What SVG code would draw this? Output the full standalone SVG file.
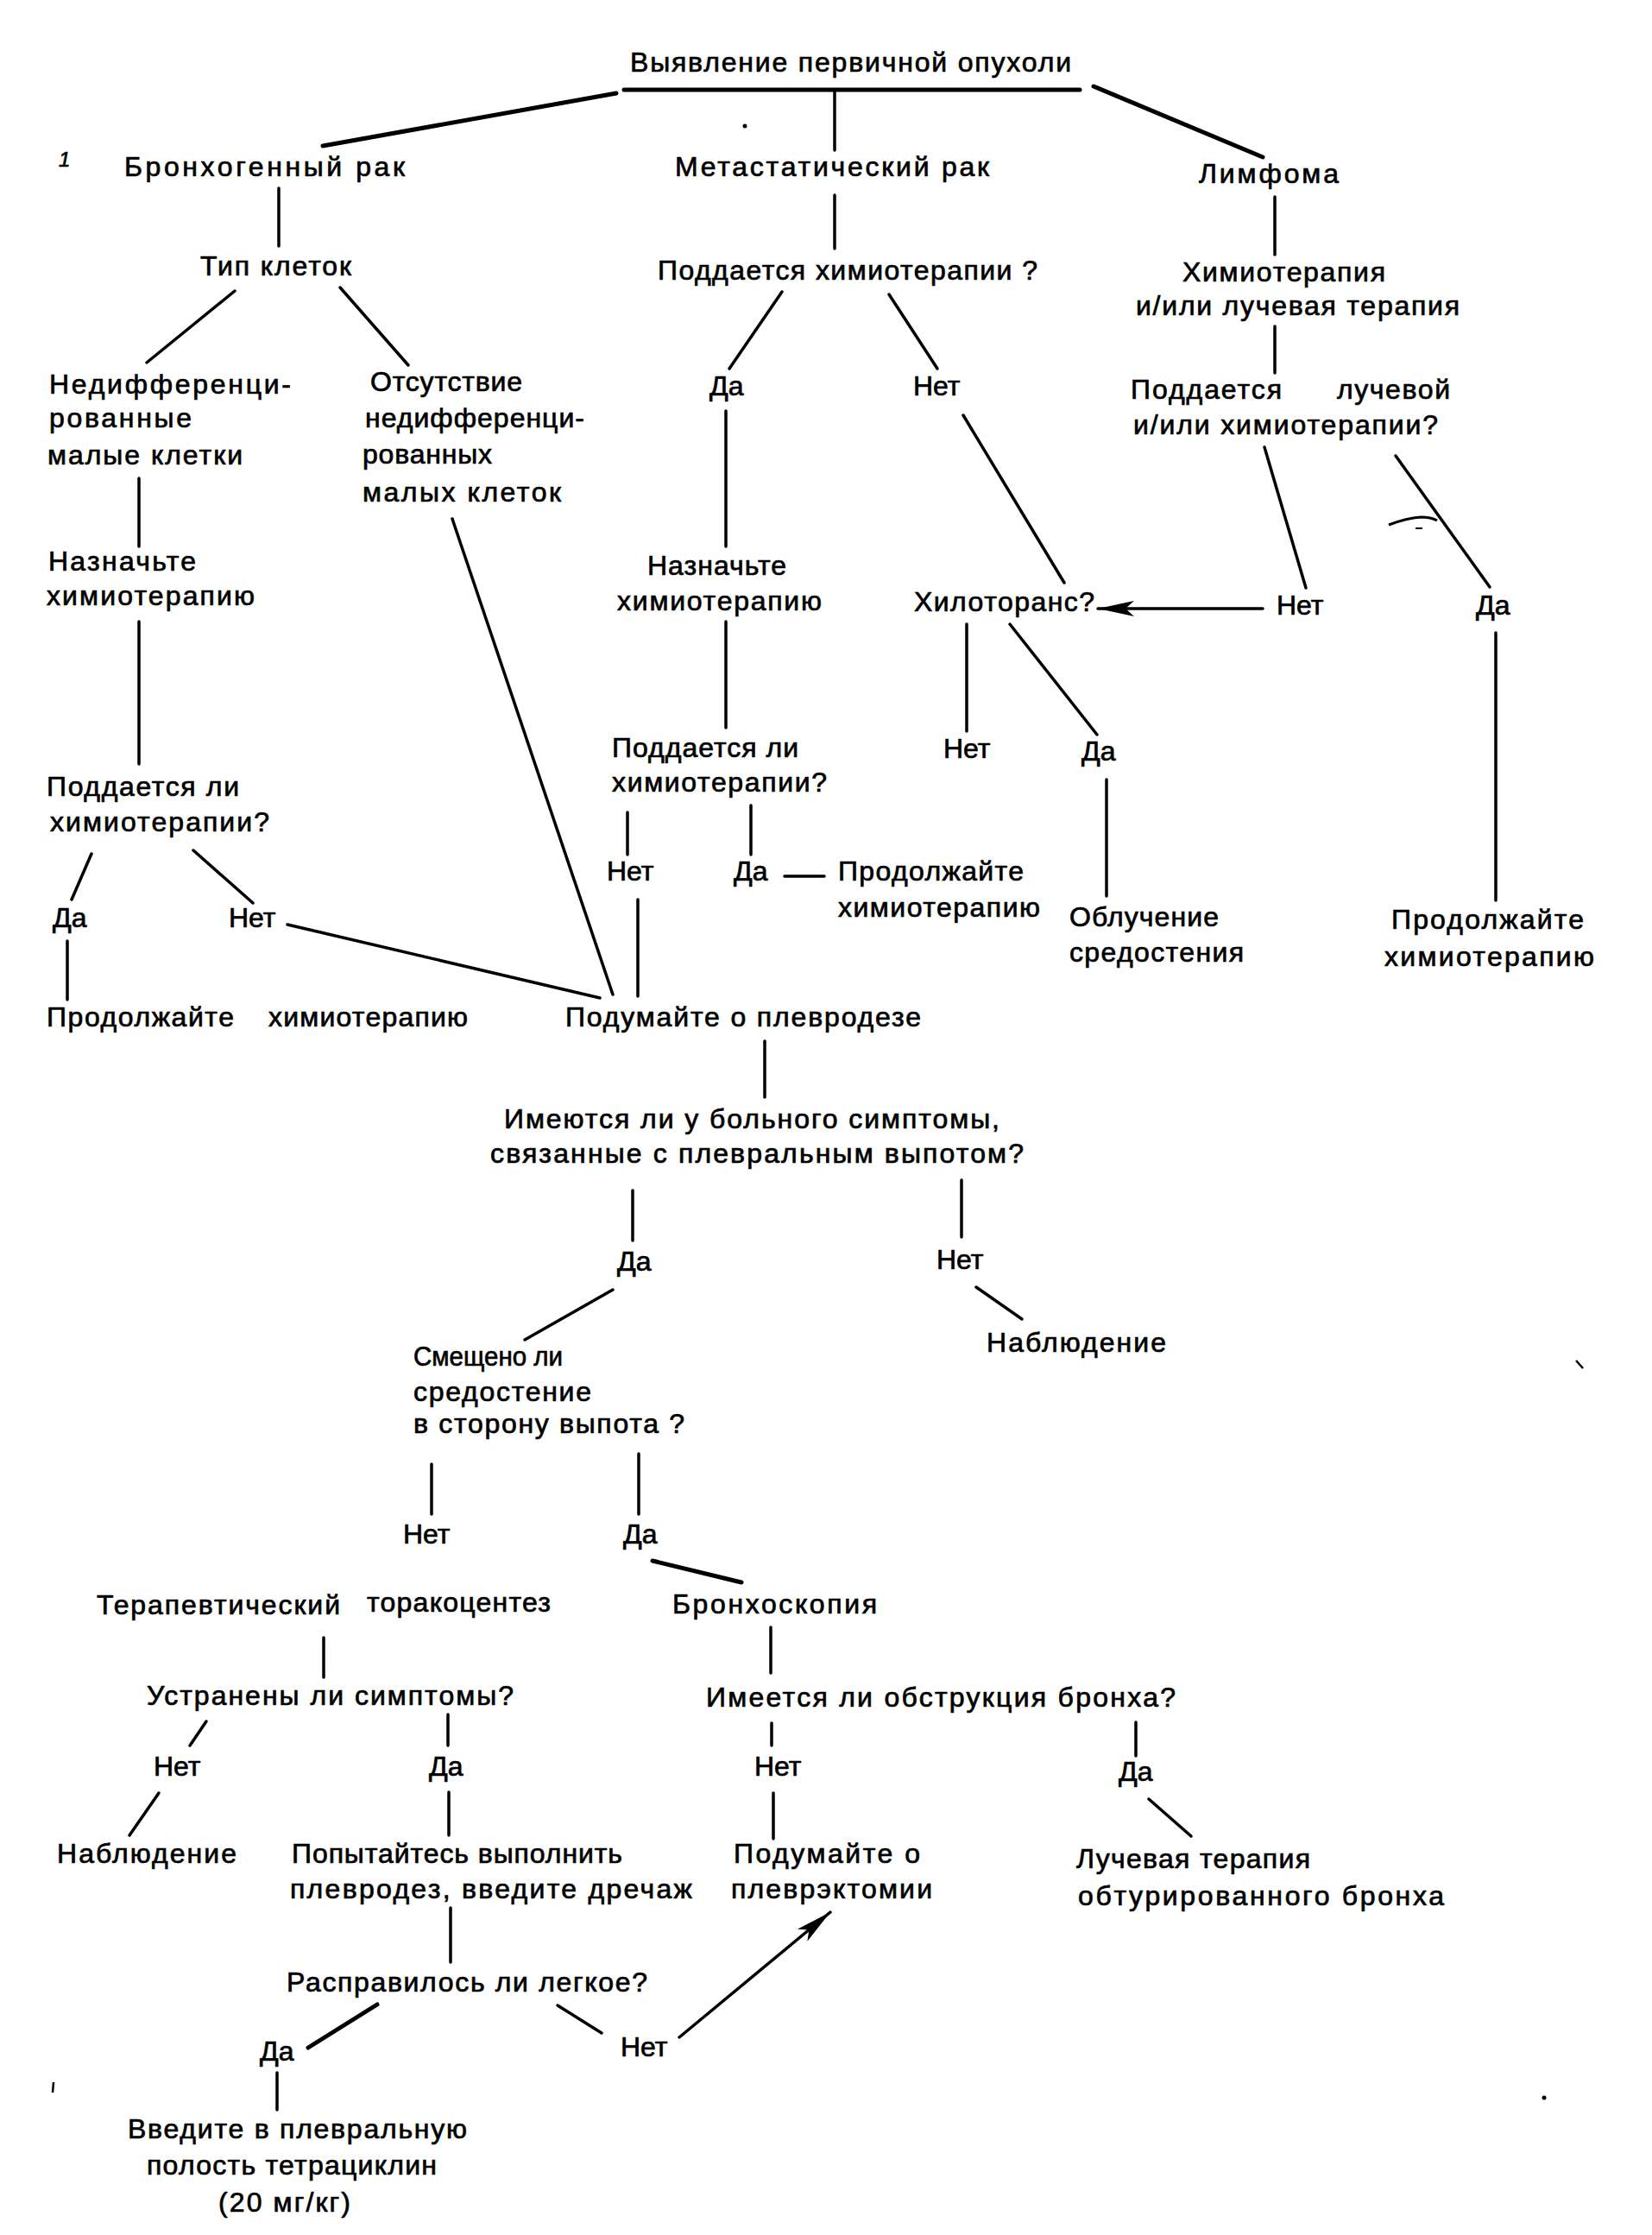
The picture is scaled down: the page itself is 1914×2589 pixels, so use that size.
<svg xmlns="http://www.w3.org/2000/svg" width="1914" height="2589" viewBox="0 0 1914 2589">
<defs>
<style>
text{font-family:"Liberation Sans",Arial,sans-serif;font-size:32px;fill:#000;stroke:#000;stroke-width:0.7}
.c line{stroke:#000;stroke-width:3.5;stroke-linecap:round;fill:none}
.c .thick{stroke-width:5}
.mk{fill:#000;stroke:none}
</style>
<marker id="ah" markerUnits="userSpaceOnUse" markerWidth="48" markerHeight="24" refX="42" refY="11" orient="auto">
<path d="M0,2 L42,11 L0,20 L10,11 Z" fill="#000"/>
</marker>
</defs>
<rect width="1914" height="2589" fill="#fff"/>

<g class="c" id="connectors">
<line class="thick" x1="723" y1="104" x2="1251" y2="104"/>
<line class="thick" x1="714" y1="108" x2="374" y2="169"/>
<line x1="967" y1="104" x2="967" y2="174"/>
<line class="thick" x1="1267" y1="100" x2="1463" y2="182"/>
<line x1="323" y1="218" x2="323" y2="285"/>
<line x1="272" y1="337" x2="170" y2="420"/>
<line x1="394" y1="333" x2="473" y2="423"/>
<line x1="161" y1="554" x2="161" y2="633"/>
<line x1="161" y1="720" x2="161" y2="885"/>
<line x1="106" y1="989" x2="83" y2="1042"/>
<line x1="224" y1="985" x2="293" y2="1046"/>
<line x1="78" y1="1090" x2="78" y2="1158"/>
<line x1="333" y1="1071" x2="695" y2="1156"/>
<line x1="524" y1="601" x2="710" y2="1152"/>
<line x1="967" y1="226" x2="967" y2="288"/>
<line x1="906" y1="338" x2="845" y2="427"/>
<line x1="1030" y1="341" x2="1086" y2="427"/>
<line x1="841" y1="476" x2="841" y2="633"/>
<line x1="841" y1="720" x2="841" y2="843"/>
<line x1="727" y1="941" x2="727" y2="990"/>
<line x1="870" y1="933" x2="870" y2="990"/>
<line x1="909" y1="1015" x2="955" y2="1015"/>
<line x1="739" y1="1042" x2="739" y2="1154"/>
<line x1="1116" y1="481" x2="1233" y2="675"/>
<line x1="1463" y1="705" x2="1272" y2="705" stroke-width="4.5" marker-end="url(#ah)"/>
<line x1="1120" y1="723" x2="1120" y2="847"/>
<line x1="1170" y1="723" x2="1271" y2="851"/>
<line x1="1282" y1="903" x2="1282" y2="1038"/>
<line x1="1477" y1="228" x2="1477" y2="295"/>
<line x1="1477" y1="378" x2="1477" y2="432"/>
<line x1="1465" y1="518" x2="1513" y2="681"/>
<line x1="1617" y1="528" x2="1726" y2="680"/>
<line x1="1733" y1="733" x2="1733" y2="1043"/>
<line x1="886" y1="1206" x2="886" y2="1271"/>
<line x1="733" y1="1379" x2="733" y2="1437"/>
<line x1="1114" y1="1367" x2="1114" y2="1433"/>
<line x1="1131" y1="1491" x2="1184" y2="1528"/>
<line x1="710" y1="1494" x2="608" y2="1552"/>
<line x1="500" y1="1696" x2="500" y2="1754"/>
<line x1="740" y1="1684" x2="740" y2="1754"/>
<line class="thick" x1="756" y1="1808" x2="859" y2="1833"/>
<line x1="375" y1="1897" x2="375" y2="1943"/>
<line x1="893" y1="1885" x2="893" y2="1938"/>
<line x1="239" y1="1994" x2="220" y2="2022"/>
<line x1="519" y1="1986" x2="519" y2="2022"/>
<line x1="894" y1="1996" x2="894" y2="2022"/>
<line x1="1316" y1="1995" x2="1316" y2="2034"/>
<line x1="184" y1="2077" x2="150" y2="2126"/>
<line x1="520" y1="2076" x2="520" y2="2126"/>
<line x1="896" y1="2077" x2="896" y2="2130"/>
<line x1="1331" y1="2084" x2="1380" y2="2127"/>
<line x1="522" y1="2210" x2="522" y2="2273"/>
<line class="thick" x1="437" y1="2322" x2="357" y2="2372"/>
<line x1="646" y1="2323" x2="697" y2="2355"/>
<line x1="787" y1="2360" x2="962" y2="2215" stroke-width="4" marker-end="url(#ah)"/>
<line x1="321" y1="2401" x2="321" y2="2444"/>
</g>

<g id="n_title"><text x="730" y="83" textLength="511">Выявление первичной опухоли</text></g>
<g id="n_broncho"><text x="144" y="204" textLength="325">Бронхогенный рак</text></g>
<g id="n_meta"><text x="782" y="204" textLength="364">Метастатический рак</text></g>
<g id="n_lymph"><text x="1389" y="212" textLength="162">Лимфома</text></g>

<g id="n_celltype"><text x="232" y="319" textLength="175">Тип клеток</text></g>
<g id="n_undiff">
<text x="57" y="456" textLength="280">Недифференци-</text>
<text x="57" y="495" textLength="165">рованные</text>
<text x="55" y="538" textLength="226">малые клетки</text>
</g>
<g id="n_nodiff">
<text x="429" y="453" textLength="176">Отсутствие</text>
<text x="423" y="495" textLength="254">недифференци-</text>
<text x="420" y="537" textLength="150">рованных</text>
<text x="420" y="581" textLength="230">малых   клеток</text>
</g>
<g id="n_assign1">
<text x="56" y="661" textLength="171">Назначьте</text>
<text x="54" y="701" textLength="241">химиотерапию</text>
</g>
<g id="n_resp1">
<text x="54" y="922" textLength="223">Поддается ли</text>
<text x="58" y="963" textLength="254">химиотерапии?</text>
</g>
<g id="n_yes1"><text x="61" y="1074">Да</text></g>
<g id="n_no1"><text x="265" y="1074">Нет</text></g>
<g id="n_cont1">
<text x="54" y="1189" textLength="217">Продолжайте</text>
<text x="311" y="1189" textLength="231">химиотерапию</text>
</g>

<g id="n_metaresp"><text x="762" y="324" textLength="440">Поддается химиотерапии ?</text></g>
<g id="n_metayes"><text x="822" y="458">Да</text></g>
<g id="n_metano"><text x="1058" y="458">Нет</text></g>
<g id="n_assign2">
<text x="750" y="666" textLength="161">Назначьте</text>
<text x="715" y="707" textLength="237">химиотерапию</text>
</g>
<g id="n_resp2">
<text x="709" y="877" textLength="216">Поддается ли</text>
<text x="709" y="917" textLength="249">химиотерапии?</text>
</g>
<g id="n_no2"><text x="703" y="1020">Нет</text></g>
<g id="n_yes2"><text x="850" y="1020">Да</text></g>
<g id="n_cont2">
<text x="971" y="1020" textLength="215">Продолжайте</text>
<text x="971" y="1062" textLength="234">химиотерапию</text>
</g>
<g id="n_chylo"><text x="1059" y="708" textLength="209">Хилоторанс?</text></g>
<g id="n_chylono"><text x="1093" y="878">Нет</text></g>
<g id="n_chyloyes"><text x="1253" y="881">Да</text></g>
<g id="n_irrad">
<text x="1239" y="1073" textLength="173">Облучение</text>
<text x="1239" y="1114" textLength="202">средостения</text>
</g>

<g id="n_lymphtx">
<text x="1370" y="326" textLength="235">Химиотерапия</text>
<text x="1316" y="365" textLength="375">и/или лучевая терапия</text>
</g>
<g id="n_lymphresp">
<text x="1310" y="462" textLength="175">Поддается</text>
<text x="1549" y="462" textLength="131">лучевой</text>
<text x="1313" y="503" textLength="353">и/или химиотерапии?</text>
</g>
<g id="n_lymphno"><text x="1479" y="712">Нет</text></g>
<g id="n_lymphyes"><text x="1710" y="712">Да</text></g>
<g id="n_cont3">
<text x="1612" y="1076" textLength="223">Продолжайте</text>
<text x="1604" y="1119" textLength="243">химиотерапию</text>
</g>

<g id="n_pleurodesis"><text x="655" y="1189" textLength="412">Подумайте о плевродезе</text></g>
<g id="n_symptoms">
<text x="584" y="1307" textLength="574">Имеются ли у больного симптомы,</text>
<text x="568" y="1347" textLength="618">связанные с плевральным выпотом?</text>
</g>
<g id="n_symyes"><text x="715" y="1472">Да</text></g>
<g id="n_symno"><text x="1085" y="1470">Нет</text></g>
<g id="n_observe1"><text x="1143" y="1566" textLength="208">Наблюдение</text></g>
<g id="n_shift">
<text x="479" y="1582" textLength="173" lengthAdjust="spacingAndGlyphs">Смещено ли</text>
<text x="479" y="1623" textLength="206">средостение</text>
<text x="479" y="1660" textLength="314">в сторону выпота ?</text>
</g>
<g id="n_shiftno"><text x="467" y="1788">Нет</text></g>
<g id="n_shiftyes"><text x="722" y="1788">Да</text></g>
<g id="n_thoraco">
<text x="112" y="1870" textLength="282">Терапевтический</text>
<text x="425" y="1867" textLength="213">торакоцентез</text>
</g>
<g id="n_bronchoscopy"><text x="779" y="1869" textLength="237">Бронхоскопия</text></g>
<g id="n_relief"><text x="170" y="1975" textLength="425">Устранены ли симптомы?</text></g>
<g id="n_obstr"><text x="818" y="1977" textLength="544">Имеется ли  обструкция бронха?</text></g>
<g id="n_reliefno"><text x="178" y="2057">Нет</text></g>
<g id="n_reliefyes"><text x="497" y="2057">Да</text></g>
<g id="n_obstrno"><text x="874" y="2057">Нет</text></g>
<g id="n_obstryes"><text x="1296" y="2063">Да</text></g>
<g id="n_observe2"><text x="66" y="2158" textLength="208">Наблюдение</text></g>
<g id="n_drain">
<text x="338" y="2158" textLength="383">Попытайтесь выполнить</text>
<text x="336" y="2199" textLength="466">плевродез, введите  дречаж</text>
</g>
<g id="n_pleurectomy">
<text x="850" y="2158" textLength="216">Подумайте о</text>
<text x="847" y="2199" textLength="233">плеврэктомии</text>
</g>
<g id="n_radiation">
<text x="1247" y="2164" textLength="271">Лучевая терапия</text>
<text x="1249" y="2207" textLength="424">обтурированного   бронха</text>
</g>
<g id="n_lung"><text x="332" y="2307" textLength="418">Расправилось ли легкое?</text></g>
<g id="n_lungyes"><text x="301" y="2387">Да</text></g>
<g id="n_lungno"><text x="719" y="2382">Нет</text></g>
<g id="n_tetra">
<text x="148" y="2477" textLength="393">Введите в плевральную</text>
<text x="170" y="2519" textLength="336">полость тетрациклин</text>
<text x="253" y="2562" textLength="153">(20 мг/кг)</text>
</g>

<g id="marks">
<text x="68" y="193" style="font-size:24px;font-style:italic">1</text>
<circle class="mk" cx="863" cy="146" r="2.5"/>
<path d="M1609,608 Q1630,600 1646,599 Q1658,599 1665,603" fill="none" stroke="#000" stroke-width="3"/>
<line x1="1640" y1="612" x2="1648" y2="612" stroke="#000" stroke-width="2"/>
<line x1="1826" y1="1576" x2="1834" y2="1585" stroke="#000" stroke-width="2.5"/>
<line x1="62" y1="2412" x2="61" y2="2424" stroke="#000" stroke-width="2.5"/>
<circle class="mk" cx="1789" cy="2430" r="2.5"/>
</g>
</svg>
